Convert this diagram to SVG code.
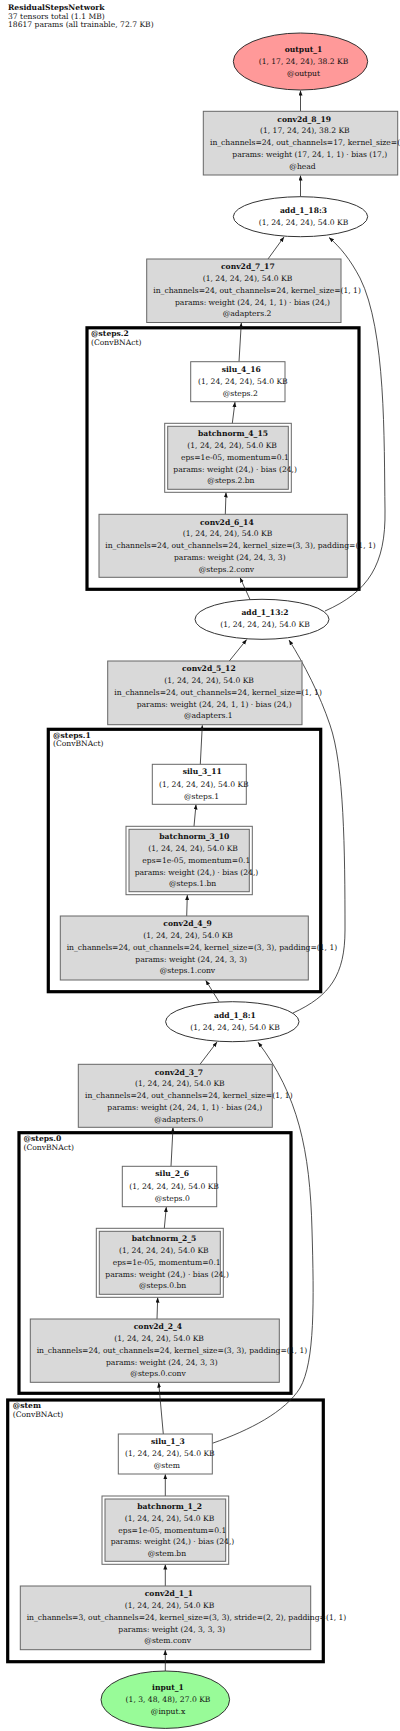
<svg xmlns="http://www.w3.org/2000/svg" width="400" height="1731" viewBox="0 0 400 1731">
<defs>
<marker id="a" markerUnits="userSpaceOnUse" markerWidth="6" markerHeight="5" refX="5" refY="2" orient="auto"><path d="M0,0 L5,2 L0,4 z" fill="#111"/></marker>
<style>
text{font-family:"DejaVu Serif","Liberation Serif",serif;font-size:7.6px;fill:#111}
.b{font-weight:bold}
.m{text-anchor:middle}
.g{fill:#d9d9d9;stroke:#666;stroke-width:1}
.w{fill:#fff;stroke:#666;stroke-width:1}
.o{fill:none;stroke:#666;stroke-width:1}
.el{stroke:#333;stroke-width:1}
.cl{fill:none;stroke:#000;stroke-width:3.2}
.e{fill:none;stroke:#222;stroke-width:0.8;marker-end:url(#a)}
</style>
</defs>
<rect width="400" height="1731" fill="#fff"/>
<g id="title">
<text x="8" y="10" class="b">ResidualStepsNetwork</text>
<text x="8" y="18.7">37 tensors total (1.1 MB)</text>
<text x="8" y="27.4">18617 params (all trainable, 72.7 KB)</text>
</g>
<g id="cluster_steps2"><rect class="cl" x="87" y="327.8" width="272" height="261.5"/><text x="91" y="336" class="b">@steps.2</text><text x="91" y="344.7">(ConvBNAct)</text></g>
<g id="cluster_steps1"><rect class="cl" x="48.3" y="729.3" width="272.4" height="262.4"/><text x="53" y="737.5" class="b">@steps.1</text><text x="53" y="746.2">(ConvBNAct)</text></g>
<g id="cluster_steps0"><rect class="cl" x="19" y="1132.7" width="272" height="260.6"/><text x="23.5" y="1140.9" class="b">@steps.0</text><text x="23.5" y="1149.6">(ConvBNAct)</text></g>
<g id="cluster_stem"><rect class="cl" x="7.7" y="1400" width="315.6" height="261.7"/><text x="12.7" y="1408.2" class="b">@stem</text><text x="12.7" y="1416.9">(ConvBNAct)</text></g>
<g id="edges">
<path class="e" d="M300.5,111.3 L300.5,90.5"/>
<path class="e" d="M300.5,196.7 L300.5,175.5"/>
<path class="e" d="M268,259 L284,237"/>
<path class="e" d="M325,611 C368,592 386,565 385,510 C384,440 386,330 360,278 C350,259 340,247 329,237.5"/>
<path class="e" d="M239,361.7 L241.3,322.8"/>
<path class="e" d="M232.3,423.3 L235,402"/>
<path class="e" d="M225.3,514.3 L226,492.5"/>
<path class="e" d="M250,599.5 L240,577.5"/>
<path class="e" d="M229.3,661 L246.7,639.5"/>
<path class="e" d="M293,1013 C330,996 345,975 345,930 C345,850 344,765 330,725 C320,695 304,664 289,640"/>
<path class="e" d="M200.3,764.3 L202.3,725.2"/>
<path class="e" d="M194,826.3 L196,804.5"/>
<path class="e" d="M186.7,916 L187.3,895"/>
<path class="e" d="M219,1001.7 L205.7,980.3"/>
<path class="e" d="M200,1064.3 L217,1042"/>
<path class="e" d="M212.3,1443.3 C250,1430 285,1412 300,1388 C315,1362 314,1300 312,1230 C310,1150 298,1095 258,1042.2"/>
<path class="e" d="M171,1166.3 L173,1127.6"/>
<path class="e" d="M164.3,1228.3 L166.3,1207"/>
<path class="e" d="M157,1319 L157.7,1297.6"/>
<path class="e" d="M163.3,1434 L158.7,1382.6"/>
<path class="e" d="M165.3,1496 L165.3,1474.3"/>
<path class="e" d="M165.3,1586 L165.3,1564.6"/>
<path class="e" d="M165.3,1671 L165.3,1650"/>
</g>
<g id="output_1"><ellipse class="el" cx="300.5" cy="61.5" rx="67.2" ry="28.5" fill="#ff9999"/>
<text x="303.5" y="51.7" class="m b">output_1</text><text x="303.5" y="63.7" class="m">(1, 17, 24, 24), 38.2 KB</text><text x="303.5" y="75.7" class="m">@output</text></g>
<g id="conv2d_8_19"><rect class="g" x="203.3" y="111.3" width="194.4" height="63.7"/>
<text x="277.3" y="121.5" class="b">conv2d_8_19</text><text x="260" y="133.3">(1, 17, 24, 24), 38.2 KB</text><text x="210" y="145.1">in_channels=24, out_channels=17, kernel_size=(1, 1)</text><text x="232.3" y="156.9">params: weight (17, 24, 1, 1) · bias (17,)</text><text x="289.3" y="168.7">@head</text></g>
<g id="add_1_18_3"><ellipse class="el" cx="300.5" cy="216.7" rx="67.2" ry="20" fill="#fff"/>
<text x="303.5" y="212.7" class="m b">add_1_18:3</text><text x="303.5" y="224.7" class="m">(1, 24, 24, 24), 54.0 KB</text></g>
<g id="conv2d_7_17"><rect class="g" x="146.7" y="259" width="194.3" height="63.5"/>
<text x="221" y="269.2" class="b">conv2d_7_17</text><text x="202.7" y="281">(1, 24, 24, 24), 54.0 KB</text><text x="153.3" y="292.8">in_channels=24, out_channels=24, kernel_size=(1, 1)</text><text x="175" y="304.6">params: weight (24, 24, 1, 1) · bias (24,)</text><text x="222.7" y="316.4">@adapters.2</text></g>
<g id="silu_4_16"><rect class="w" x="190.7" y="361.7" width="94.3" height="40"/>
<text x="221.7" y="371.7" class="b">silu_4_16</text><text x="198" y="384">(1, 24, 24, 24), 54.0 KB</text><text x="222.7" y="396">@steps.2</text></g>
<g id="batchnorm_4_15"><rect class="o" x="164.7" y="423.3" width="126.6" height="69"/><rect class="g" x="167.7" y="426.3" width="120.6" height="63"/>
<text x="198" y="436.4" class="b">batchnorm_4_15</text><text x="187.3" y="448.1">(1, 24, 24, 24), 54.0 KB</text><text x="181" y="459.8">eps=1e-05, momentum=0.1</text><text x="173.3" y="471.5">params: weight (24,) · bias (24,)</text><text x="207.3" y="483.2">@steps.2.bn</text></g>
<g id="conv2d_6_14"><rect class="g" x="99" y="514.3" width="248.3" height="63"/>
<text x="200" y="524.5" class="b">conv2d_6_14</text><text x="182.7" y="536.3">(1, 24, 24, 24), 54.0 KB</text><text x="105.3" y="548.1">in_channels=24, out_channels=24, kernel_size=(3, 3), padding=(1, 1)</text><text x="174" y="559.9">params: weight (24, 24, 3, 3)</text><text x="198.7" y="571.7">@steps.2.conv</text></g>
<g id="add_1_13_2"><ellipse class="el" cx="262" cy="619.3" rx="67" ry="20" fill="#fff"/>
<text x="265" y="615" class="m b">add_1_13:2</text><text x="265" y="627" class="m">(1, 24, 24, 24), 54.0 KB</text></g>
<g id="conv2d_5_12"><rect class="g" x="107.7" y="661" width="194.3" height="63.7"/>
<text x="182" y="671.2" class="b">conv2d_5_12</text><text x="164.3" y="683">(1, 24, 24, 24), 54.0 KB</text><text x="114.3" y="694.8">in_channels=24, out_channels=24, kernel_size=(1, 1)</text><text x="136.7" y="706.6">params: weight (24, 24, 1, 1) · bias (24,)</text><text x="184" y="718.4">@adapters.1</text></g>
<g id="silu_3_11"><rect class="w" x="152.3" y="764.3" width="94" height="40"/>
<text x="182.7" y="774.3" class="b">silu_3_11</text><text x="159" y="786.6">(1, 24, 24, 24), 54.0 KB</text><text x="184" y="798.6">@steps.1</text></g>
<g id="batchnorm_3_10"><rect class="o" x="126" y="826.3" width="126.3" height="68.4"/><rect class="g" x="129" y="829.3" width="120.3" height="62.4"/>
<text x="159.3" y="839.4" class="b">batchnorm_3_10</text><text x="148.3" y="851.1">(1, 24, 24, 24), 54.0 KB</text><text x="142.3" y="862.8">eps=1e-05, momentum=0.1</text><text x="134.7" y="874.5">params: weight (24,) · bias (24,)</text><text x="169" y="886.2">@steps.1.bn</text></g>
<g id="conv2d_4_9"><rect class="g" x="60.3" y="916" width="248" height="64"/>
<text x="163.3" y="926.2" class="b">conv2d_4_9</text><text x="143.3" y="938">(1, 24, 24, 24), 54.0 KB</text><text x="66.7" y="949.8">in_channels=24, out_channels=24, kernel_size=(3, 3), padding=(1, 1)</text><text x="135.3" y="961.6">params: weight (24, 24, 3, 3)</text><text x="159.7" y="973.4">@steps.1.conv</text></g>
<g id="add_1_8_1"><ellipse class="el" cx="232.3" cy="1021.7" rx="66.7" ry="20" fill="#fff"/>
<text x="235" y="1017.7" class="m b">add_1_8:1</text><text x="235" y="1029.7" class="m">(1, 24, 24, 24), 54.0 KB</text></g>
<g id="conv2d_3_7"><rect class="g" x="78.3" y="1064.3" width="194" height="63"/>
<text x="154.7" y="1074.5" class="b">conv2d_3_7</text><text x="135" y="1086.3">(1, 24, 24, 24), 54.0 KB</text><text x="85" y="1098.1">in_channels=24, out_channels=24, kernel_size=(1, 1)</text><text x="107.3" y="1109.9">params: weight (24, 24, 1, 1) · bias (24,)</text><text x="154.3" y="1121.7">@adapters.0</text></g>
<g id="silu_2_6"><rect class="w" x="122.3" y="1166.3" width="94.4" height="40.4"/>
<text x="155.3" y="1176.3" class="b">silu_2_6</text><text x="129.3" y="1188.6">(1, 24, 24, 24), 54.0 KB</text><text x="154.7" y="1200.6">@steps.0</text></g>
<g id="batchnorm_2_5"><rect class="o" x="96.3" y="1228.3" width="127" height="69"/><rect class="g" x="99.3" y="1231.3" width="121" height="63"/>
<text x="131.7" y="1241.4" class="b">batchnorm_2_5</text><text x="119" y="1253.1">(1, 24, 24, 24), 54.0 KB</text><text x="112.7" y="1264.8">eps=1e-05, momentum=0.1</text><text x="105.3" y="1276.5">params: weight (24,) · bias (24,)</text><text x="139" y="1288.2">@steps.0.bn</text></g>
<g id="conv2d_2_4"><rect class="g" x="30.3" y="1319" width="249" height="63.3"/>
<text x="133.7" y="1329.2" class="b">conv2d_2_4</text><text x="114.3" y="1341">(1, 24, 24, 24), 54.0 KB</text><text x="36.7" y="1352.8">in_channels=24, out_channels=24, kernel_size=(3, 3), padding=(1, 1)</text><text x="106" y="1364.6">params: weight (24, 24, 3, 3)</text><text x="130.3" y="1376.4">@steps.0.conv</text></g>
<g id="silu_1_3"><rect class="w" x="118.3" y="1434" width="94" height="40"/>
<text x="151" y="1444" class="b">silu_1_3</text><text x="125" y="1456.3">(1, 24, 24, 24), 54.0 KB</text><text x="153.7" y="1468.3">@stem</text></g>
<g id="batchnorm_1_2"><rect class="o" x="102" y="1496" width="126.7" height="68.3"/><rect class="g" x="105" y="1499" width="120.7" height="62.3"/>
<text x="137.3" y="1509.1" class="b">batchnorm_1_2</text><text x="124.7" y="1520.8">(1, 24, 24, 24), 54.0 KB</text><text x="118.3" y="1532.5">eps=1e-05, momentum=0.1</text><text x="110.7" y="1544.2">params: weight (24,) · bias (24,)</text><text x="147.7" y="1555.9">@stem.bn</text></g>
<g id="conv2d_1_1"><rect class="g" x="20.3" y="1586" width="290.4" height="63.7"/>
<text x="144.7" y="1596.2" class="b">conv2d_1_1</text><text x="124.7" y="1608">(1, 24, 24, 24), 54.0 KB</text><text x="26.7" y="1619.8">in_channels=3, out_channels=24, kernel_size=(3, 3), stride=(2, 2), padding=(1, 1)</text><text x="118.3" y="1631.6">params: weight (24, 3, 3, 3)</text><text x="144.3" y="1643.4">@stem.conv</text></g>
<g id="input_1"><ellipse class="el" cx="165.3" cy="1699.7" rx="64.3" ry="28.7" fill="#98fb98"/>
<text x="168" y="1690" class="m b">input_1</text><text x="168" y="1702.3" class="m">(1, 3, 48, 48), 27.0 KB</text><text x="168" y="1714.3" class="m">@input.x</text></g>
</svg>
